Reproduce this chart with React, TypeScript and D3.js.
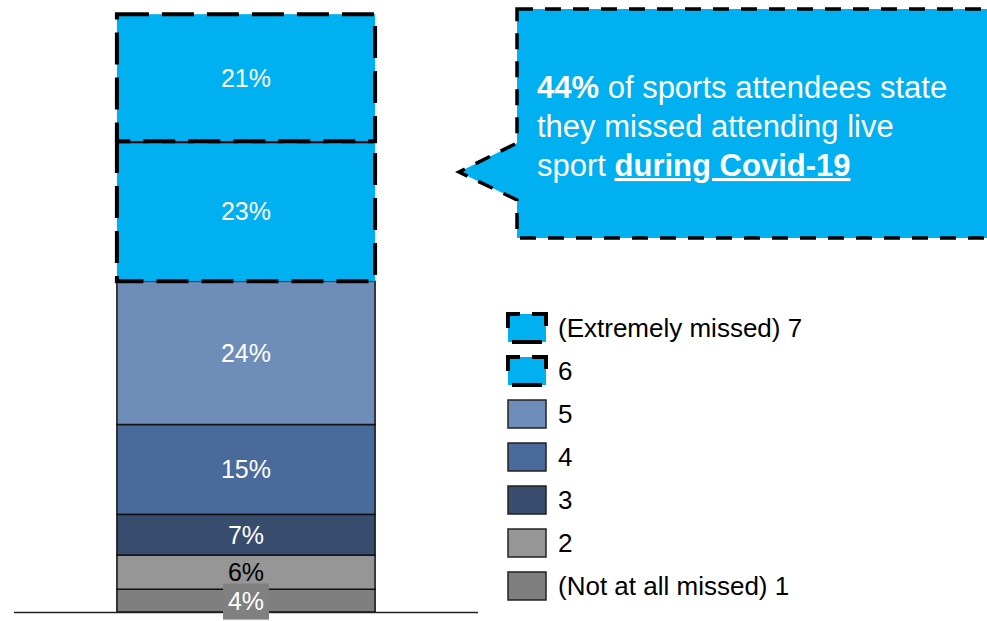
import React from "react";
import * as d3 from "d3";

const categories = ["All"];
const levels = ["(Not at all missed) 1", "2", "3", "4", "5", "6", "(Extremely missed) 7"];
const values = [3.8, 5.7, 6.8, 15.0, 23.9, 23.4, 21.2];
const colors = ["#7f7f7f", "#969696", "#384c6e", "#4a6a9b", "#6f8db9", "#00b0f0", "#00b0f0"];
const labelColors = ["#ffffff", "#000000", "#ffffff", "#ffffff", "#ffffff", "#ffffff", "#ffffff"];
const dashed = [false, false, false, false, false, true, true];
const yTicks = [0, 100];

const W = 987;
const H = 621;
const FONT = "'Liberation Sans', Arial, sans-serif";

export default function App() {
  const x = d3.scaleBand<string>().domain(categories).range([14, 478]).padding(0.285);
  const y = d3.scaleLinear().domain([yTicks[0], yTicks[1]]).range([612, 13]);
  const stacked = d3.cumsum(values);
  const segs = values.map((v, i) => ({
    v,
    i,
    y0: i === 0 ? 0 : stacked[i - 1],
    y1: stacked[i],
  }));
  const bx = x(categories[0]) as number;
  const bw = x.bandwidth();
  const cx = bx + bw / 2;

  const legendY = d3.scalePoint<number>().domain(d3.range(levels.length).reverse()).range([328, 586]);
  const sw = 38, sh = 28;
  const swPath = `M0,0 H${sw} V${sh} H0 Z`;

  return (
    <svg width={W} height={H} style={{ position: "absolute", left: 0, top: 0, background: "#fff" }} fontFamily={FONT}>
      {segs.filter((s) => !dashed[s.i]).map((s) => (
        <rect key={s.i} x={bx} y={y(s.y1)} width={bw} height={y(s.y0) - y(s.y1)}
          fill={colors[s.i]} stroke="#111" strokeWidth={1.5} />
      ))}
      {segs.filter((s) => dashed[s.i]).map((s) => (
        <rect key={s.i} x={bx} y={y(s.y1)} width={bw} height={y(s.y0) - y(s.y1)}
          fill={colors[s.i]} stroke="#000" strokeWidth={4} strokeDasharray="32 13" />
      ))}
      <line x1={14} x2={478} y1={y(0) + 0.5} y2={y(0) + 0.5} stroke="#222" strokeWidth={1.5} />
      {segs.map((s) => {
        const my = (y(s.y0) + y(s.y1)) / 2;
        return (
          <g key={s.i}>
            {s.i === 0 && <rect x={cx - 23} y={my - 17} width={46} height={36} fill="#808080" />}
            <text x={cx} y={my} textAnchor="middle" dominantBaseline="central" fontSize={25}
              fill={labelColors[s.i]}>{`${Math.round(s.v)}%`}</text>
          </g>
        );
      })}
      <path d="M517,9 H1000 V238 H517 V200 L459,172 L517,143 Z" fill="#00b0f0" stroke="#000"
        strokeWidth={3.5} strokeDasharray="16 12" />
      <text x={537} fontSize={31} fill="#fff">
        <tspan x={537} y={98}><tspan fontWeight="bold">44%</tspan> of sports attendees state</tspan>
        <tspan x={537} y={137}>they missed attending live</tspan>
        <tspan x={537} y={176}>sport <tspan fontWeight="bold" textDecoration="underline" style={{ textDecoration: "underline" }}>during Covid-19</tspan></tspan>
      </text>
      {levels.map((lab, i) => {
        const ly = legendY(i) as number;
        return (
          <g key={lab} transform={`translate(508,${ly - sh / 2})`}>
            {dashed[i] ? (
              <>
                <rect width={sw} height={sh} fill={colors[i]} />
                <path d={swPath} fill="none" stroke="#000" strokeWidth={4}
                  strokeDasharray="12 12 26 20 30 18 14" />
              </>
            ) : (
              <rect width={sw} height={sh} fill={colors[i]} stroke="#222" strokeWidth={1.5} />
            )}
            <text x={50} y={sh / 2} dominantBaseline="central" fontSize={26} fill="#000">{lab}</text>
          </g>
        );
      })}
    </svg>
  );
}
